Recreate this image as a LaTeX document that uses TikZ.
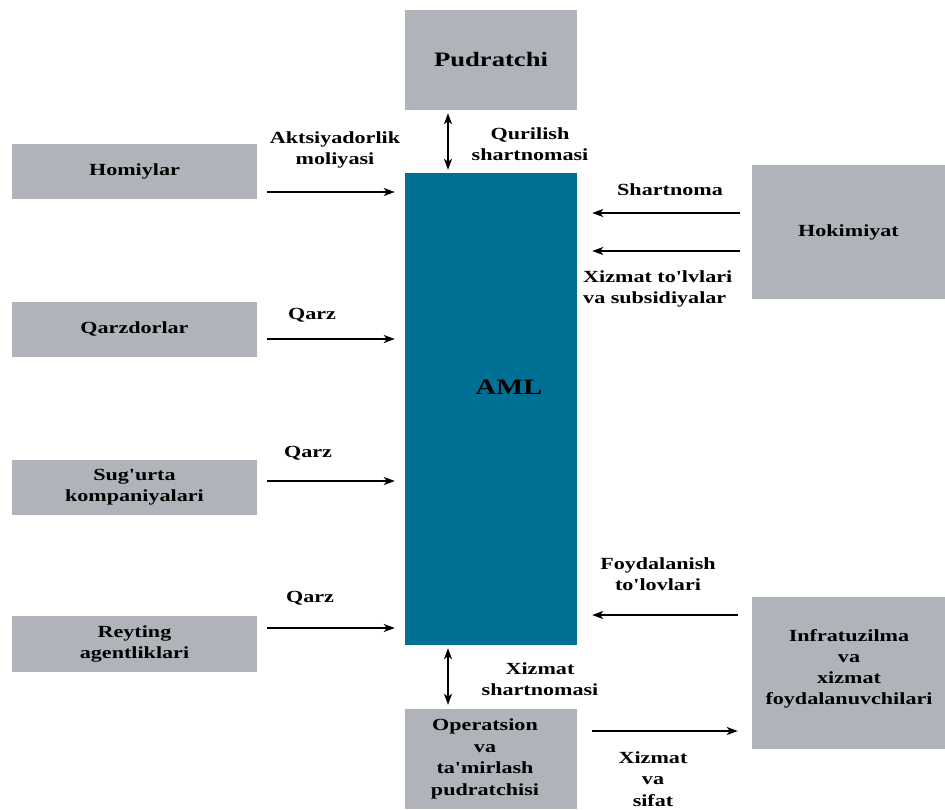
\documentclass[tikz,border=0pt]{standalone}
\usepackage{fontspec}
\setmainfont{Liberation Serif}[FakeStretch=1.3, Ligatures=TeXOff]
\usetikzlibrary{arrows.meta}
\definecolor{boxgray}{RGB}{176,180,186}
\definecolor{amlteal}{RGB}{0,112,148}
\tikzset{
  box/.style={fill=boxgray, draw=none, inner sep=0pt, align=center, font=\fontsize{17}{21.5}\selectfont\bfseries},
  lbl/.style={inner sep=0pt, align=center, font=\fontsize{17}{21.5}\selectfont\bfseries},
  arr/.style={line width=1.8pt, -{Stealth[length=11pt,width=8pt,inset=3pt]}},
  darr/.style={line width=1.8pt, {Stealth[length=11pt,width=8pt,inset=3pt]}-{Stealth[length=11pt,width=8pt,inset=3pt]}}
}
\begin{document}
\begin{tikzpicture}[x=1pt,y=-1pt]
\useasboundingbox (0,0) rectangle (945,809);
% boxes
\node[box, minimum width=172pt, minimum height=100pt, font=\fontsize{20.5}{24}\selectfont\bfseries] (pud) at (491,60) {Pudratchi};
\node[box, fill=amlteal, minimum width=172pt, minimum height=472pt] (aml) at (491,409) {};
\node[lbl, font=\fontsize{22}{26}\selectfont\bfseries] (amllbl) at (509,387) {AML};
\node[box, minimum width=245pt, minimum height=55pt] (hom) at (134.5,171) {Homiylar};
\node[box, minimum width=245pt, minimum height=55pt] (qar) at (134.5,329) {Qarzdorlar};
\node[box, minimum width=245pt, minimum height=55pt] (sug) at (134.5,487) {Sug'urta\\kompaniyalari};
\node[box, minimum width=245pt, minimum height=56pt] (rey) at (134.5,644) {Reyting\\agentliklari};
\node[box, minimum width=193pt, minimum height=134pt] (hok) at (848.5,232) {Hokimiyat};
\node[box, minimum width=193pt, minimum height=152pt] (inf) at (848.5,673) {};
\node[lbl, font=\fontsize{17}{21}\selectfont\bfseries] (inftxt) at (849,669) {Infratuzilma\\va\\xizmat\\foydalanuvchilari};
\node[box, minimum width=172pt, minimum height=100pt] (ope) at (491,759) {};
\node[lbl] (opetxt) at (485,759) {Operatsion\\va\\ta'mirlash\\pudratchisi};
% connectors
\draw[darr] ([yshift=-3pt]pud.south -| 448,0) -- ([yshift=3pt]aml.north -| 448,0);
\draw[darr] ([yshift=-3pt]aml.south -| 448,0) -- ([yshift=4pt]ope.north -| 448,0);
\draw[arr] ([xshift=10pt]hom.east |- 0,192) -- ([xshift=-10pt]aml.west |- 0,192);
\draw[arr] ([xshift=10pt]qar.east |- 0,339) -- ([xshift=-10pt]aml.west |- 0,339);
\draw[arr] ([xshift=10pt]sug.east |- 0,481) -- ([xshift=-10pt]aml.west |- 0,481);
\draw[arr] ([xshift=10pt]rey.east |- 0,628) -- ([xshift=-10pt]aml.west |- 0,628);
\draw[arr] ([xshift=-12pt]hok.west |- 0,213) -- ([xshift=15pt]aml.east |- 0,213);
\draw[arr] ([xshift=-12pt]hok.west |- 0,251) -- ([xshift=15pt]aml.east |- 0,251);
\draw[arr] ([xshift=-14pt]inf.west |- 0,615) -- ([xshift=15pt]aml.east |- 0,615);
\draw[arr] ([xshift=15pt]ope.east |- 0,731) -- ([xshift=-14pt]inf.west |- 0,731);
% labels
\node[lbl] (l1) at (530,144) {Qurilish\\shartnomasi};
\node[lbl] (l2) at (335,150) {Aktsiyadorlik\\moliyasi};
\node[lbl] (l3) at (312,315) {Qarz};
\node[lbl] (l4) at (308,453) {Qarz};
\node[lbl] (l5) at (310,598) {Qarz};
\node[lbl] (l6) at (670,190) {Shartnoma};
\node[lbl, align=left, anchor=west] (l7) at (583,289) {Xizmat to'lvlari\\va subsidiyalar};
\node[lbl] (l8) at (658,574) {Foydalanish\\to'lovlari};
\node[lbl] (l9) at (540,679) {Xizmat\\shartnomasi};
\node[lbl] (l10) at (653,779) {Xizmat\\va\\sifat};
\end{tikzpicture}
\end{document}
